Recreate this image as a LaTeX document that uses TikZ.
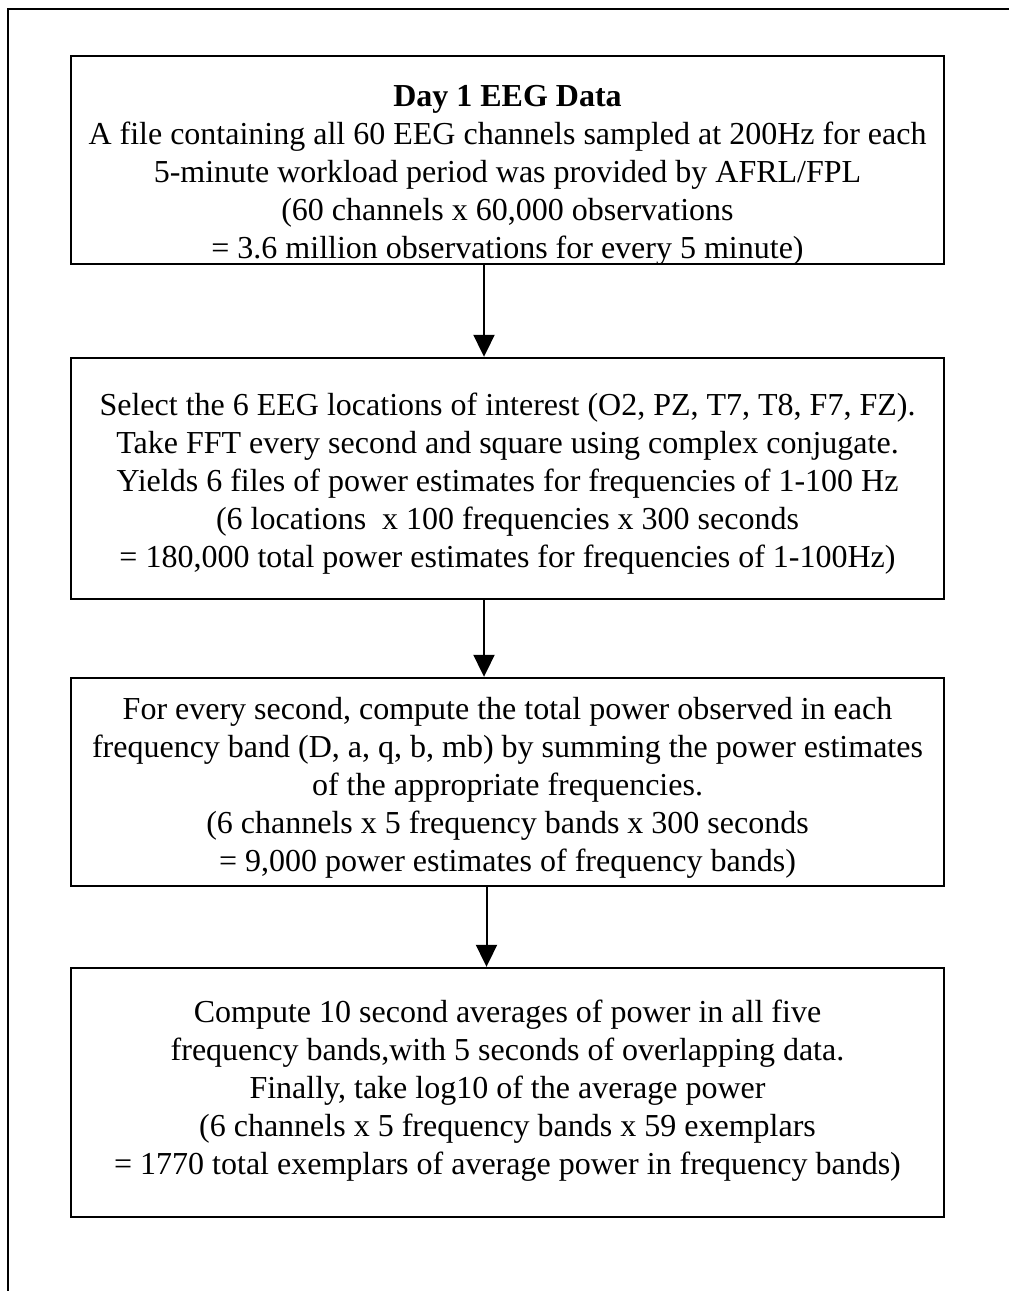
\documentclass[tikz,border=0pt]{standalone}
\usepackage{fontspec}
\setmainfont{Liberation Serif}
\usetikzlibrary{arrows.meta}

\begin{document}
\begin{tikzpicture}[x=1pt,y=-1pt,
    stage/.style={draw, line width=2.4pt, minimum width=873pt, inner sep=0pt},
    stagetext/.style={align=center, inner sep=0pt, font=\fontsize{32}{38}\selectfont},
    flow/.style={line width=2pt, -{Triangle[length=22pt,width=21pt]}}]

    \useasboundingbox (0,0) rectangle (1009,1291);

    % marco
    \draw[line width=2.6pt] (8,1291) -- (8,9) -- (1009,9);

    % cajas
    \node[stage, minimum height=208pt] (raw) at (507.5,160) {};
    \node[stage, minimum height=241pt] (fft) at (507.5,478.5) {};
    \node[stage, minimum height=208pt] (band) at (507.5,782) {};
    \node[stage, minimum height=249pt] (avg) at (507.5,1092.5) {};

    % textos
    \node[stagetext] (rawtext) at (507.5,175) {\textbf{Day 1 EEG Data}\\
        A file containing all 60 EEG channels sampled at 200Hz for each\\
        5-minute workload period was provided by AFRL/FPL\\
        (60 channels x 60,000 observations\\
        = 3.6 million observations for every 5 minute)};
    \node[stagetext] (ffttext) at (507.5,484) {Select the 6 EEG locations of interest (O2, PZ, T7, T8, F7, FZ).\\
        Take FFT every second and square using complex conjugate.\\
        Yields 6 files of power estimates for frequencies of 1-100 Hz\\
        (6 locations~~x 100 frequencies x 300 seconds\\
        = 180,000 total power estimates for frequencies of 1-100Hz)};
    \node[stagetext] (bandtext) at (507.5,788) {For every second, compute the total power observed in each\\
        frequency band (D, a, q, b, mb) by summing the power estimates\\
        of the appropriate frequencies.\\
        (6 channels x 5 frequency bands x 300 seconds\\
        = 9,000 power estimates of frequency bands)};
    \node[stagetext] (avgtext) at (507.5,1091) {Compute 10 second averages of power in all five\\
        frequency bands,with 5 seconds of overlapping data.\\
        Finally, take log10 of the average power\\
        (6 channels x 5 frequency bands x 59 exemplars\\
        = 1770 total exemplars of average power in frequency bands)};

    % flechas
    \draw[flow] ([xshift=-23.5pt]raw.south) -- ([xshift=-23.5pt]fft.north);
    \draw[flow] ([xshift=-23.5pt]fft.south) -- ([xshift=-23.5pt]band.north);
    \draw[flow] ([xshift=-21pt]band.south) -- ([xshift=-21pt]avg.north);

\end{tikzpicture}
\end{document}
